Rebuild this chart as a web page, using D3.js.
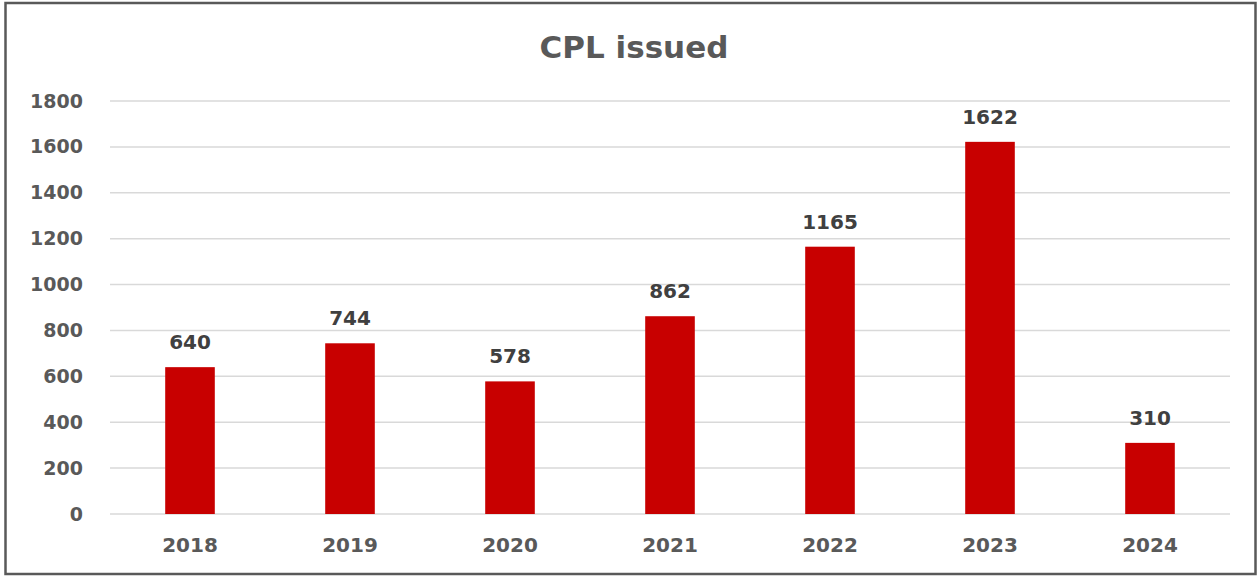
<!DOCTYPE html>
<html>
<head>
<meta charset="utf-8">
<script src="https://cdn.jsdelivr.net/npm/d3@7"></script>
<style>
  html, body { margin: 0; padding: 0; background: #fff; }
  #chart { width: 1258px; height: 577px; }
</style>
</head>
<body>
<div id="chart"></div>
<script>
// data
const years = ["2018", "2019", "2020", "2021", "2022", "2023", "2024"];
const issued = [640, 744, 578, 862, 1165, 1622, 310];
const yTicks = [0, 200, 400, 600, 800, 1000, 1200, 1400, 1600, 1800];

const width = 1258, height = 577;
const margin = { top: 101, right: 28, bottom: 63, left: 110 };
const font = "'DejaVu Sans', sans-serif";

const svg = d3.select("#chart")
    .append("svg")
    .attr("width", width)
    .attr("height", height);

// frame
svg.append("rect")
    .attr("x", 5.5)
    .attr("y", 3)
    .attr("width", 1250)
    .attr("height", 571)
    .attr("fill", "#fff")
    .attr("stroke", "#595959")
    .attr("stroke-width", 2.5);

const x = d3.scaleBand()
    .domain(years)
    .range([margin.left, width - margin.right])
    .paddingInner(0.69)
    .paddingOuter(0.345);

const y = d3.scaleLinear()
    .domain([0, 1800])
    .range([height - margin.bottom, margin.top]);

// gridlines
svg.append("g")
    .selectAll("line")
    .data(yTicks)
    .enter()
    .append("line")
    .attr("x1", margin.left)
    .attr("x2", width - margin.right)
    .attr("y1", d => y(d))
    .attr("y2", d => y(d))
    .attr("stroke", "#d9d9d9")
    .attr("stroke-width", 1.5);

// y axis labels
const yAxis = d3.axisLeft(y)
    .tickValues(yTicks)
    .tickFormat(d3.format("d"))
    .tickSize(0)
    .tickPadding(27);
svg.append("g")
    .attr("transform", `translate(${margin.left},0)`)
    .call(yAxis)
    .call(g => g.select(".domain").remove())
    .selectAll("text")
    .attr("font-family", font)
    .attr("font-size", 19)
    .attr("font-weight", "bold")
    .attr("fill", "#595959");

// x axis labels
const xAxis = d3.axisBottom(x).tickSize(0).tickPadding(24);
svg.append("g")
    .attr("transform", `translate(0,${height - margin.bottom})`)
    .call(xAxis)
    .call(g => g.select(".domain").remove())
    .selectAll("text")
    .attr("font-family", font)
    .attr("font-size", 20)
    .attr("font-weight", "bold")
    .attr("fill", "#595959");

// bars
svg.append("g")
    .selectAll("rect")
    .data(years)
    .enter()
    .append("rect")
    .attr("x", d => x(d))
    .attr("y", (d, i) => y(issued[i]))
    .attr("width", x.bandwidth())
    .attr("height", (d, i) => y(0) - y(issued[i]))
    .attr("fill", "#c80000");

// value labels
svg.append("g")
    .selectAll("text")
    .data(years)
    .enter()
    .append("text")
    .attr("x", d => x(d) + x.bandwidth() / 2)
    .attr("y", (d, i) => y(issued[i]) - 18)
    .attr("text-anchor", "middle")
    .attr("font-family", font)
    .attr("font-size", 20)
    .attr("font-weight", "bold")
    .attr("fill", "#404040")
    .text((d, i) => issued[i]);

// title
svg.append("text")
    .attr("x", 634)
    .attr("y", 58)
    .attr("text-anchor", "middle")
    .attr("font-family", font)
    .attr("font-size", 31)
    .attr("font-weight", "bold")
    .attr("fill", "#595959")
    .text("CPL issued");
</script>
</body>
</html>
